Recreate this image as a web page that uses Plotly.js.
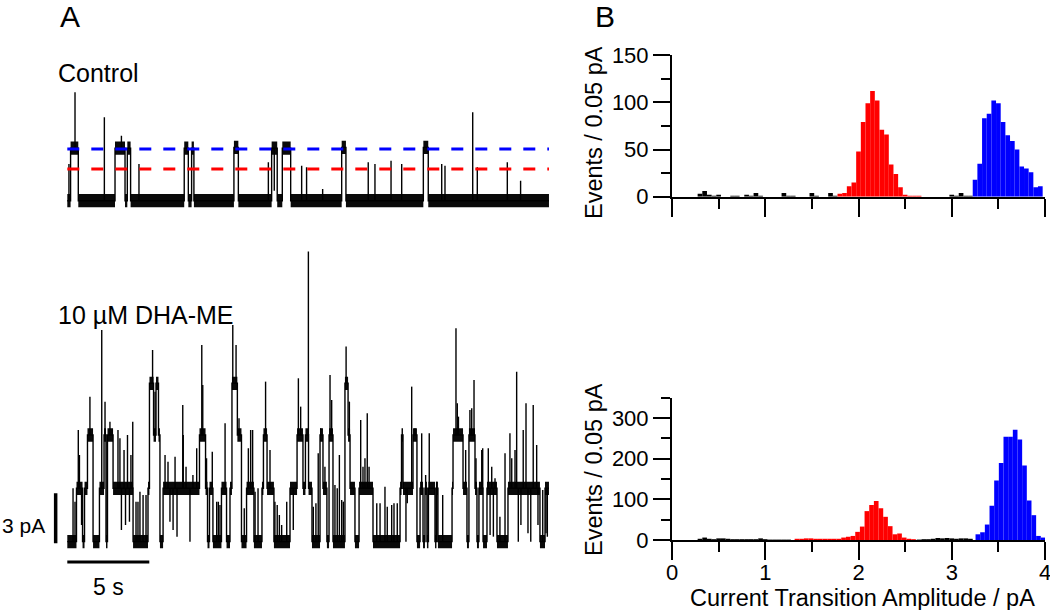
<!DOCTYPE html>
<html>
<head>
<meta charset="utf-8">
<script src="https://cdn.plot.ly/plotly-3.0.1.min.js"></script>
<style>
  html, body { margin: 0; padding: 0; background: #fff; }
  #plotly_graph { width: 1050px; height: 610px; }
</style>
</head>
<body>
<div id="plotly_graph"></div>
<script>
// *********************************************************************************************
// DATA

// Control trace: current level (pA) that starts at each time (s)
const CTL_T = [0, 0.20, 0.67, 2.91, 3.52, 3.66, 3.86, 7.13, 7.38, 7.58, 7.72, 10.16, 10.43,
               12.46, 12.80, 13.11, 13.62, 16.73, 16.99, 21.71, 22.01]
const CTL_I = [0, 3.15, 0, 3.15, 0, 3.15, 0, 3.15, 0, 3.15, 0, 3.2, 0,
               3.15, 0, 3.15, 0, 3.2, 0, 3.2, 0]
// brief openings / closings (time s, peak pA)
const CTL_SPIKE_T = [0.10, 0.47, 2.26, 3.30, 4.37, 12.26, 12.62, 14.29, 14.59, 15.57, 18.35, 18.76,
                     19.74, 20.39, 22.83, 23.03, 24.72, 25.00, 26.83, 27.64]
const CTL_SPIKE_I = [2.2, 6.5, 5.0, 3.9, 2.2, 2.3, 0.6, 2.1, 2.0, 0.7, 2.3, 2.2,
                     2.4, 2.2, 2.2, 2.1, 5.3, 2.0, 2.3, 1.2]
const CTL_END = 29.37
const CTL_LEVELS = [1.9, 3.1]          // red, blue dashed levels (pA)

// 10 uM DHA-ME trace
const DHA_T = [0, 0.56, 0.93, 1.05, 1.23, 1.57, 1.96, 2.24, 2.36, 2.45, 2.79, 4.01, 4.92, 5.01, 5.26,
               5.41, 5.56, 5.65, 5.84, 8.06, 8.43, 8.55, 8.67, 8.88, 9.40, 9.71, 9.92, 10.04, 10.37,
               10.62, 10.93, 11.38, 11.87, 11.96, 12.18, 12.60, 13.58, 14.01, 14.37, 14.52, 14.71,
               14.92, 15.41, 15.59, 15.83, 15.96, 16.20, 16.93, 17.12, 17.24, 17.54, 17.79, 18.64,
               20.29, 20.38, 20.47, 21.08, 21.32, 21.51, 21.69, 21.81, 21.93, 22.02, 22.42, 22.51,
               22.60, 23.46, 23.52, 24.13, 24.37, 24.49, 24.86, 24.98, 25.10, 25.35, 25.59, 26.20,
               26.87, 28.82, 29.13]
const DHA_I = [0, 3.2, 0, 3.2, 6.4, 0, 3.2, 6.4, 0, 6.4, 3.2, 0, 3.2, 9.5, 6.4,
               9.5, 6.4, 0, 3.2, 6.4, 3.2, 0, 3.2, 0, 3.2, 0, 3.2, 9.5, 6.4,
               0, 3.2, 0, 3.2, 6.4, 3.2, 0, 3.2, 6.4, 3.2, 6.4, 3.2,
               0, 6.4, 3.2, 0, 6.4, 0, 9.5, 6.4, 3.2, 0, 3.2, 0,
               3.2, 6.4, 3.2, 6.4, 0, 3.2, 0, 3.2, 0, 3.2, 0, 3.2,
               0, 3.2, 6.4, 3.2, 0, 6.4, 3.2, 0, 3.2, 0, 3.2, 0,
               3.2, 0, 3.2]
const DHA_SPIKE_T = [0.35, 0.47, 0.67, 0.74, 0.87, 1.38, 2.10, 2.30, 2.60, 2.73, 3.09, 3.21, 3.30, 3.46,
                     3.55, 3.67, 3.79, 3.88, 3.99, 4.19, 4.31, 4.43, 4.62, 4.80, 5.20, 5.35, 5.96, 6.14,
                     6.26, 6.45, 6.57, 6.69, 7.04, 7.07, 7.24, 7.48, 7.66, 7.89, 8.20, 8.26, 8.49, 8.84,
                     9.11, 9.21, 9.31, 9.62, 10.09, 10.29, 10.47, 10.79, 11.04, 11.18, 11.30, 11.45,
                     11.63, 12.09, 12.36, 12.66, 12.80, 12.93, 13.07, 13.38, 13.78, 14.09, 14.23, 14.70,
                     15.00, 15.16, 15.30, 15.45, 15.71, 16.02, 16.12, 16.32, 16.46, 16.59, 16.73, 16.83,
                     17.00, 17.20, 17.89, 18.03, 18.15, 18.29, 18.40, 18.87, 19.07, 19.37, 19.51, 19.78,
                     19.92, 20.12, 20.65, 20.73, 21.00, 21.20, 21.61, 21.85, 22.07, 22.52, 22.89, 23.70,
                     23.78, 23.85, 24.29, 24.55, 24.66, 24.80, 24.92, 25.27, 25.33, 25.67, 25.78, 25.88,
                     25.98, 26.08, 26.38, 26.69, 26.99, 27.10, 27.30, 27.40, 27.50, 27.66, 27.80, 27.97,
                     28.09, 28.26, 28.41, 28.62, 28.70, 28.99, 29.19, 29.27]
const DHA_SPIKE_I = [3.2, 2.4, 6.7, 5.2, 1.0, 8.7, 12.7, 8.4, 7.2, 6.7, 6.7, 6.2, 0.7, 5.5,
                     1.0, 6.4, 1.2, 5.2, 7.2, 2.4, 2.4, 3.0, 2.8, 2.8, 11.5, 9.0, 5.2, 4.8,
                     1.2, 0.7, 5.1, 0.3, 8.2, 6.4, 4.5, 0.0, 4.0, 5.6, 11.8, 9.4, 5.0, 5.4,
                     2.4, 2.4, 2.2, 7.1, 13.0, 11.8, 7.4, 2.0, 5.6, 6.7, 6.7, 3.0,
                     3.2, 9.6, 5.5, 2.4, 2.2, 1.6, 1.0, 2.4, 0.7, 9.8, 8.1, 17.4,
                     2.1, 2.3, 5.3, 6.8, 4.5, 10.0, 8.5, 3.4, 3.2, 5.2, 2.5, 2.4,
                     11.7, 8.4, 7.3, 4.5, 5.0, 7.7, 4.5, 2.3, 2.3, 3.3, 2.1, 2.2,
                     2.3, 2.3, 0.0, 2.3, 9.3, 6.8, 6.5, 4.0, 6.5, 3.6, 2.8, 12.8,
                     8.3, 7.5, 5.5, 7.9, 8.0, 9.7, 5.0, 5.5, 5.6, 5.6, 0.4, 4.5,
                     0.3, 3.8, 1.5, 5.3, 6.5, 5.0, 5.5, 10.2, 0.0, 1.0, 6.7, 8.3,
                     0.5, 0.0, 8.2, 5.8, 1.0, 3.1, 0.5, 0.3]
const DHA_END = 29.37

const SCALE_S = 5      // s
const SCALE_PA = 3     // pA

// Histograms: bin centres (pA) and events per 0.05 pA bin
const H1_BLACK_X = [0.30, 0.35, 0.40, 0.45, 0.50, 0.65, 0.70, 0.80, 0.85, 0.90, 0.95, 1.20, 1.25, 1.30,
                    1.50, 1.55, 1.70, 1.75, 3.00, 3.05, 3.10, 3.15, 3.20]
const H1_BLACK_Y = [3, 6, 2, 1, 2, 1, 1, 2, 1, 4, 1, 4, 1, 1, 4, 1, 4, 1, 2, 1, 4, 1, 1]
const H1_RED_X = [1.80, 1.85, 1.90, 1.95, 2.00, 2.05, 2.10, 2.15, 2.20, 2.25, 2.30, 2.35, 2.40, 2.45,
                  2.50, 2.55, 2.60, 2.65]
const H1_RED_Y = [3, 4, 11, 15, 48, 79, 99, 112, 102, 71, 66, 34, 24, 10, 2, 1, 1, 1]
const H1_BLUE_X = [3.25, 3.30, 3.35, 3.40, 3.45, 3.50, 3.55, 3.60, 3.65, 3.70, 3.75, 3.80, 3.85, 3.90, 3.95]
const H1_BLUE_Y = [18, 35, 83, 88, 102, 99, 79, 65, 59, 50, 32, 30, 26, 10, 11]

const H2_BLACK_X = [0.30, 0.35, 0.40, 0.45, 0.50, 0.55, 0.60, 0.65, 0.70, 0.75, 0.80, 0.85, 0.90, 0.95,
                    1.00, 1.05, 1.10, 1.15, 1.20, 1.25, 2.65, 2.70, 2.75, 2.80, 2.85, 2.90, 2.95, 3.00,
                    3.05, 3.10, 3.15, 3.20]
const H2_BLACK_Y = [3, 6, 3, 2, 4, 4, 3, 2, 2, 2, 2, 2, 2, 4, 2, 1, 1, 1, 1, 1, 1, 2, 2, 3, 5, 4, 5, 4,
                    3, 4, 4, 3]
const H2_RED_X = [1.34, 1.39, 1.44, 1.49, 1.54, 1.59, 1.64, 1.69, 1.74, 1.79, 1.84, 1.89, 1.94, 1.99,
                  2.04, 2.09, 2.14, 2.19, 2.24, 2.29, 2.34, 2.39, 2.44, 2.49, 2.54, 2.59]
const H2_RED_Y = [3, 3, 4, 4, 3, 3, 3, 3, 3, 3, 6, 8, 10, 20, 33, 71, 86, 96, 78, 57, 34, 14, 16, 6, 3, 2]
const H2_BLUE_X = [3.28, 3.33, 3.38, 3.43, 3.48, 3.53, 3.58, 3.63, 3.68, 3.73, 3.78, 3.83, 3.88, 3.93, 3.98]
const H2_BLUE_Y = [14, 19, 38, 84, 146, 189, 254, 254, 271, 247, 183, 97, 61, 10, 6]


// *********************************************************************************************
// HELPERS

const W = 1050, H = 610
const PX = v => v / W
const PY = v => 1 - v / H
const FONT = 'Liberation Sans, Arial, Helvetica, sans-serif'
const NOISE = 0.4      // half height of the drawn noise band (pA)

function levelAt(ts, lv, t) {
    let k = 0
    while (k + 1 < ts.length && ts[k + 1] <= t) k++
    return lv[k]
}

function recording(ts, lv, end, spT, spI, xa, ya) {
    const sx = [], sy = [], bx = [], by = [], kx = [], ky = []
    ts.forEach((t0, i) => {
        const t1 = i + 1 < ts.length ? ts[i + 1] : end
        const l = lv[i]
        sx.push(t0, t1); sy.push(l, l)
        bx.push(t0, t1, t1, t0, t0, null)
        by.push(l - NOISE, l - NOISE, l + NOISE, l + NOISE, l - NOISE, null)
    })
    spT.forEach((t, i) => {
        kx.push(t, t, null)
        ky.push(levelAt(ts, lv, t), spI[i], null)
    })
    return [
        { type: 'scatter', mode: 'lines', x: bx, y: by, fill: 'toself', fillcolor: '#0a0a0a',
          line: { width: 0 }, xaxis: xa, yaxis: ya },
        { type: 'scatter', mode: 'lines', x: sx, y: sy, line: { color: '#000', width: 1.4 },
          xaxis: xa, yaxis: ya },
        { type: 'scatter', mode: 'lines', x: kx, y: ky, line: { color: '#000', width: 1.4 },
          xaxis: xa, yaxis: ya }
    ]
}

function bars(x, y, color, xa, ya) {
    return { type: 'bar', x: x, y: y, width: 0.05, marker: { color: color, line: { width: 0 } },
             xaxis: xa, yaxis: ya }
}


// *********************************************************************************************
// TRACES

let data = []
data = data.concat(recording(CTL_T, CTL_I, CTL_END, CTL_SPIKE_T, CTL_SPIKE_I, 'x', 'y'))
data = data.concat(recording(DHA_T, DHA_I, DHA_END, DHA_SPIKE_T, DHA_SPIKE_I, 'x2', 'y2'))

// dashed reference levels over the control trace
const dashColors = ['#ff0000', '#0000ff']
CTL_LEVELS.forEach((lvl, i) => {
    data.push({ type: 'scatter', mode: 'lines', x: [0, CTL_END], y: [lvl, lvl],
                line: { color: dashColors[i], width: 3, dash: '12px,12px' }, xaxis: 'x', yaxis: 'y' })
})

// scale bars
data.push({ type: 'scatter', mode: 'lines', x: [-0.71, -0.71], y: [-0.1, -0.1 + SCALE_PA],
            line: { color: '#000', width: 3.5 }, xaxis: 'x2', yaxis: 'y2' })
data.push({ type: 'scatter', mode: 'lines', x: [0, SCALE_S], y: [-1.22, -1.22],
            line: { color: '#000', width: 3 }, xaxis: 'x2', yaxis: 'y2' })

// histograms
data.push(bars(H1_BLACK_X, H1_BLACK_Y, '#000', 'x3', 'y3'))
data.push(bars(H1_RED_X, H1_RED_Y, '#ff0000', 'x3', 'y3'))
data.push(bars(H1_BLUE_X, H1_BLUE_Y, '#0000ff', 'x3', 'y3'))
data.push(bars(H2_BLACK_X, H2_BLACK_Y, '#000', 'x4', 'y4'))
data.push(bars(H2_RED_X, H2_RED_Y, '#ff0000', 'x4', 'y4'))
data.push(bars(H2_BLUE_X, H2_BLUE_Y, '#0000ff', 'x4', 'y4'))


// *********************************************************************************************
// LAYOUT

const hidden = (dom, rng) => ({ domain: dom, range: rng, visible: false, fixedrange: true })

const histX = (anchor, labels) => ({
    domain: [PX(672), PX(1045)], range: [0, 4], anchor: anchor,
    showline: true, linecolor: '#000', linewidth: 2, mirror: false,
    ticks: 'outside', ticklen: 18, tickwidth: 2, tickcolor: '#000', dtick: 1, tick0: 0,
    minor: { ticks: 'outside', ticklen: 10, tickwidth: 2, tickcolor: '#000', dtick: 0.5, showgrid: false },
    showticklabels: labels, tickfont: { family: FONT, size: 22, color: '#000' },
    ticklabelstandoff: -6, ticklabeloverflow: 'allow',
    showgrid: false, zeroline: false
})

const histY = (anchor, dom, top, major) => ({
    domain: dom, range: [0, top], anchor: anchor,
    showline: true, linecolor: '#000', linewidth: 2,
    ticks: 'outside', ticklen: 17, tickwidth: 2, tickcolor: '#000', dtick: major, tick0: 0,
    minor: { ticks: 'outside', ticklen: 9, tickwidth: 2, tickcolor: '#000', dtick: major / 2, showgrid: false },
    tickfont: { family: FONT, size: 22, color: '#000' },
    showgrid: false, zeroline: false
})

const note = (text, x, y, size, opts) => Object.assign({
    text: text, xref: 'paper', yref: 'paper', x: PX(x), y: PY(y),
    xanchor: 'center', yanchor: 'middle', showarrow: false,
    font: { family: FONT, size: size, color: '#000' }
}, opts || {})

const traceDomainX = [PX(50.9), PX(50.9 + 30.6 * 16.4)]

let layout = {
    width: W, height: H, autosize: false,
    margin: { t: 0, r: 0, b: 0, l: 0 },
    paper_bgcolor: '#fff', plot_bgcolor: '#fff',
    showlegend: false, hovermode: false, barmode: 'overlay',

    xaxis: hidden(traceDomainX, [-1, 29.6]),
    yaxis: Object.assign(hidden([PY(225.7), PY(84.0)], [-1.5, 7]), { anchor: 'x' }),
    xaxis2: Object.assign(hidden(traceDomainX, [-1, 29.6]), { anchor: 'y2' }),
    yaxis2: Object.assign(hidden([PY(575.0), PY(241.6)], [-2, 18]), { anchor: 'x2' }),

    xaxis3: histX('y3', false),
    yaxis3: histY('x3', [PY(196.7), PY(55.1)], 150, 50),
    xaxis4: histX('y4', true),
    yaxis4: histY('x4', [PY(540), PY(397.6)], 350, 100),

    annotations: [
        note('A', 70, 16, 30),
        note('B', 605, 16, 30),
        note('Control', 56, 73, 25, { xanchor: 'left' }),
        note('10 \u00b5M DHA-ME', 56, 315, 25, { xanchor: 'left' }),
        note('3 pA', 47, 525, 21, { xanchor: 'right' }),
        note('5 s', 108, 587, 23),
        note('Events / 0.05 pA', 594, 133, 23.5, { textangle: -90 }),
        note('Events / 0.05 pA', 594, 470, 23.5, { textangle: -90 }),
        note('Current Transition Amplitude / pA', 862, 598, 23.5)
    ]
}


// *********************************************************************************************
// CONFIG

const config = {
    displaylogo: false,
    displayModeBar: false,
    staticPlot: true
}


// *********************************************************************************************
// CREATE AND APPEND

Plotly.newPlot(document.getElementById('plotly_graph'), data, layout, config)
</script>
</body>
</html>
